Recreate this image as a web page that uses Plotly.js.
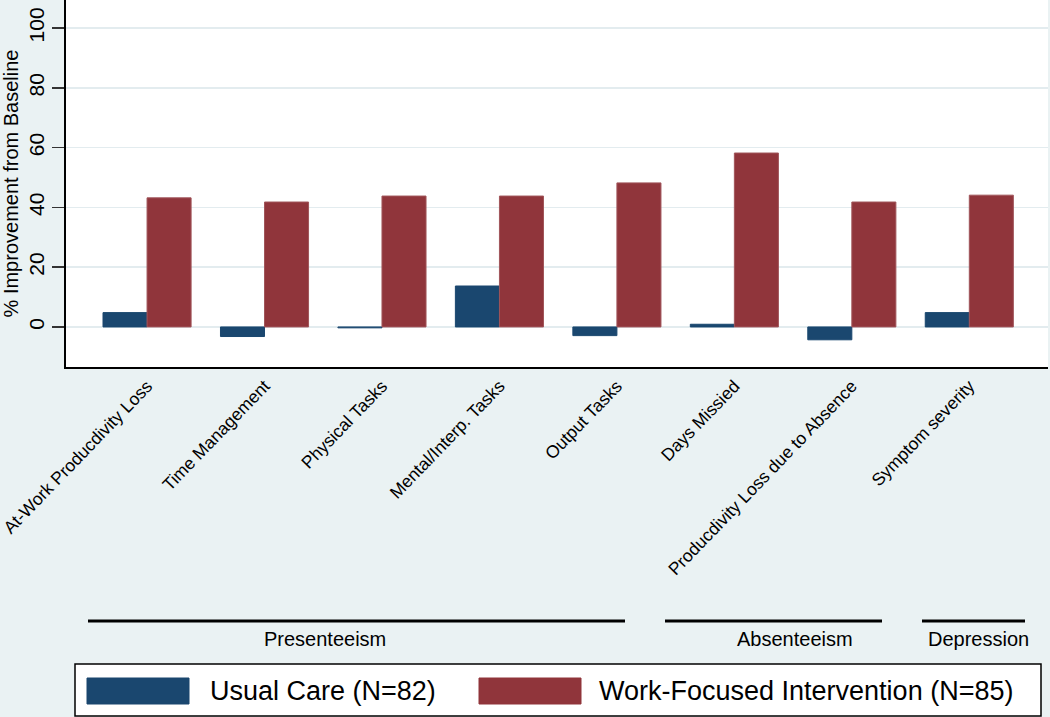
<!DOCTYPE html>
<html>
<head>
<meta charset="utf-8">
<script src="https://cdn.plot.ly/plotly-3.0.1.min.js"></script>
<style>
html,body{margin:0;padding:0;background:#eaf2f3;}
#chart{width:1050px;height:717px;}
</style>
</head>
<body>
<div id="chart"></div>
<script>
// ---- data ----
var categories = [
  "At-Work Producdivity Loss",
  "Time Management",
  "Physical Tasks",
  "Mental/Interp. Tasks",
  "Output Tasks",
  "Days Missied",
  "Producdivity Loss due to Absence",
  "Symptom severity"
];
var usualCare = [4.8, -3.2, -0.3, 13.7, -2.9, 0.9, -4.3, 4.8];
var workFocused = [43.2, 41.8, 43.8, 43.8, 48.2, 58.2, 41.8, 44.1];
var seriesNames = ["Usual Care (N=82)", "Work-Focused Intervention (N=85)"];
var seriesColors = ["#1a476f", "#90353b"];
var groupNames = ["Presenteeism", "Absenteeism", "Depression"];
var yTickVals = [0, 20, 40, 60, 80, 100];
var yTitle = "% Improvement from Baseline";

// ---- layout helpers (pixel -> paper) ----
var W = 1050, H = 717, ML = 66, MR = 2, MT = 0, MB = 350;
var PW = W - ML - MR, PH = H - MT - MB;
function px(x){ return (x - ML) / PW; }
function py(y){ return (H - MB - y) / PH; }

var traces = [
  {type:"bar", x:categories, y:usualCare, name:seriesNames[0],
   marker:{color:seriesColors[0], line:{color:seriesColors[0], width:1}}},
  {type:"bar", x:categories, y:workFocused, name:seriesNames[1],
   marker:{color:seriesColors[1], line:{color:"#a0555a", width:1}}}
];

var shapes = [];
var annotations = [];
var font = "Liberation Sans, Arial, sans-serif";

// group bracket lines + labels
var groupSpans = [[88, 625, 325], [665, 882, 795], [922, 1025, 978]];
groupNames.forEach(function(g, i){
  var s = groupSpans[i];
  shapes.push({type:"line", xref:"paper", yref:"paper",
    x0:px(s[0]), x1:px(s[1]), y0:py(621), y1:py(621),
    line:{color:"#000", width:3}});
  annotations.push({xref:"paper", yref:"paper", x:px(s[2]), y:py(639),
    text:g, showarrow:false, xanchor:"center", yanchor:"middle",
    font:{family:font, size:20, color:"#000"}});
});

// custom legend
shapes.push({type:"rect", xref:"paper", yref:"paper",
  x0:px(75), x1:px(1041), y0:py(664), y1:py(716),
  fillcolor:"#ffffff", line:{color:"#000", width:1.5}});
var legSw = [[87, 189, 208], [479, 581, 597]];
seriesNames.forEach(function(n, i){
  var s = legSw[i];
  shapes.push({type:"rect", xref:"paper", yref:"paper",
    x0:px(s[0]), x1:px(s[1]), y0:py(678), y1:py(704),
    fillcolor:seriesColors[i], line:{color:seriesColors[i], width:1}});
  annotations.push({xref:"paper", yref:"paper", x:px(s[2]), y:py(691),
    text:n, showarrow:false, xanchor:"left", yanchor:"middle",
    font:{family:font, size:27, color:"#000"}});
});

var layout = {
  width:W, height:H,
  margin:{l:ML, r:MR, t:MT, b:MB, pad:0},
  paper_bgcolor:"#eaf2f3",
  plot_bgcolor:"#ffffff",
  showlegend:false,
  barmode:"group",
  bargap:0.25,
  bargroupgap:0,
  font:{family:font, color:"#000"},
  xaxis:{
    type:"category",
    range:[-0.69, 7.67],
    tickangle:-46,
    tickfont:{family:font, size:17.5, color:"#000"},
    showgrid:false, zeroline:false,
    showline:true, linecolor:"#000", linewidth:2,
    ticks:"", automargin:false
  },
  yaxis:{
    range:[-13.4, 109.4],
    tickvals:yTickVals,
    ticktext:yTickVals.map(String),
    tickangle:-90,
    tickfont:{family:font, size:21, color:"#000"},
    ticks:"outside", ticklen:12, tickwidth:1.5, tickcolor:"#333",
    showgrid:true, gridcolor:"#e3ecef", gridwidth:1.5,
    zeroline:true, zerolinecolor:"#e3ecef", zerolinewidth:1.5,
    showline:true, linecolor:"#000", linewidth:2,
    title:{text:yTitle, font:{family:font, size:20, color:"#000"}, standoff:4},
    automargin:false
  },
  shapes:shapes,
  annotations:annotations
};

Plotly.newPlot("chart", traces, layout, {displayModeBar:false, staticPlot:true});
</script>
</body>
</html>
